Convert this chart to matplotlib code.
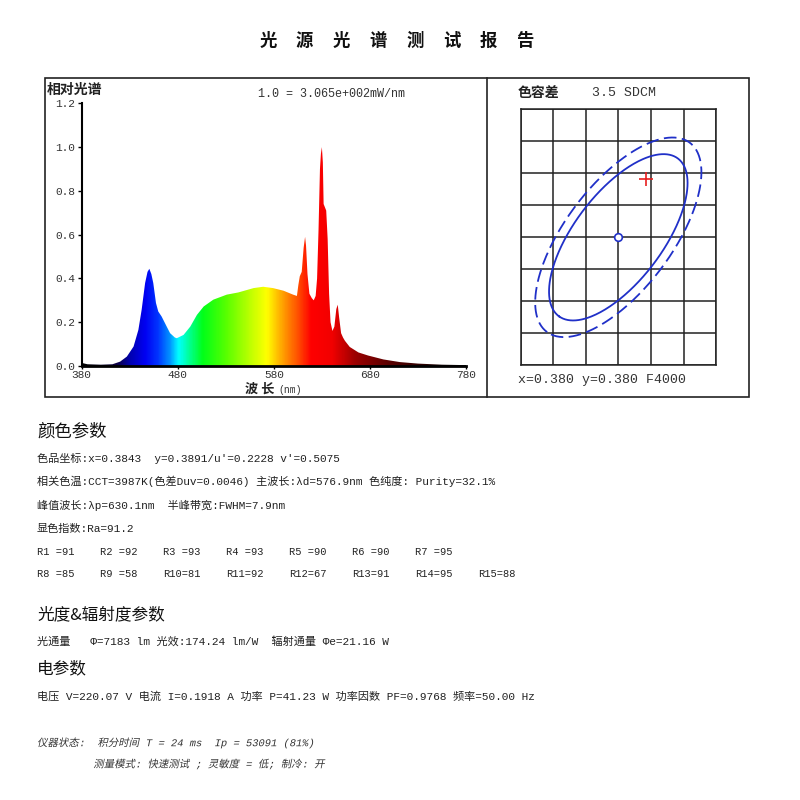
import numpy as np
import matplotlib
matplotlib.use('Agg')
from matplotlib import pyplot as plt
from matplotlib.colors import LinearSegmentedColormap
from matplotlib.lines import Line2D
from matplotlib.patches import Rectangle
from matplotlib.patheffects import AbstractPathEffect
from matplotlib.transforms import Affine2D

CJK = ['Noto Sans CJK SC', 'DejaVu Sans']
MONO = ['Liberation Mono', 'Noto Sans CJK SC', 'DejaVu Sans']
plt.rcParams['font.family'] = MONO

title = '光源光谱测试报告'

# relative spectrum
wavelength = [380, 382, 386, 400, 412, 420, 427, 434, 439, 442.4, 446, 448.5, 450.4,
              452.5, 454.5, 457.3, 459.7, 463.2, 468.5, 472, 477, 479, 486, 493, 500,
              507, 517, 531, 543, 559, 569, 579, 590, 600, 604, 605.5, 607, 609, 611,
              612.5, 613.5, 615, 617, 619.5, 621.5, 623.5, 625, 626.5, 628, 629, 630,
              631, 631.8, 634.5, 636, 637.5, 639, 641, 643, 645, 646.5, 648, 650, 652,
              654, 659, 668, 678, 694, 711, 730, 755, 780]
rel_power = [0.015, 0.012, 0.008, 0.006, 0.008, 0.02, 0.043, 0.089, 0.165, 0.257, 0.379,
             0.43, 0.444, 0.42, 0.379, 0.288, 0.249, 0.226, 0.18, 0.15, 0.13, 0.127,
             0.142, 0.18, 0.234, 0.272, 0.303, 0.326, 0.336, 0.356, 0.362, 0.356, 0.344,
             0.326, 0.32, 0.37, 0.41, 0.43, 0.54, 0.59, 0.55, 0.42, 0.33, 0.31, 0.30,
             0.32, 0.40, 0.62, 0.90, 0.97, 1.0, 0.93, 0.74, 0.71, 0.58, 0.33, 0.20,
             0.16, 0.18, 0.26, 0.28, 0.22, 0.15, 0.13, 0.115, 0.087, 0.062, 0.048,
             0.03, 0.018, 0.011, 0.006, 0.004]
spec_xticks = [380, 480, 580, 680, 780]
spec_yticks = [0.0, 0.2, 0.4, 0.6, 0.8, 1.0, 1.2]
scale_note = '1.0 = 3.065e+002mW/nm'

# colour tolerance
ref_x, ref_y, ref_name = 0.380, 0.380, 'F4000'
meas_x, meas_y = 0.3843, 0.3891
sdcm = 3.5
g11, g12, g22 = 38.6e4, -20.6e4, 25.8e4
ellipse_steps = [5, 6]
grid_step = 0.005

color_lines = [
    "色品坐标:x=0.3843  y=0.3891/u'=0.2228 v'=0.5075",
    '相关色温:CCT=3987K(色差Duv=0.0046) 主波长:λd=576.9nm 色纯度: Purity=32.1%',
    '峰值波长:λp=630.1nm  半峰带宽:FWHM=7.9nm',
    '显色指数:Ra=91.2',
]
r_values = [91, 92, 93, 93, 90, 90, 95, 85, 58, 81, 92, 67, 91, 95, 88]
photo_line = '光通量   Φ=7183 lm 光效:174.24 lm/W  辐射通量 Φe=21.16 W'
elec_line = '电压 V=220.07 V 电流 I=0.1918 A 功率 P=41.23 W 功率因数 PF=0.9768 频率=50.00 Hz'
status_lines = ['仪器状态:  积分时间 T = 24 ms  Ip = 53091 (81%)',
                '测量模式: 快速测试 ; 灵敏度 = 低; 制冷: 开']

W, H = 800, 800


def fx(x):
    return x / W


def fy(y):
    return 1 - y / H


class Oblique(AbstractPathEffect):
    # fake italic: CJK fonts have no italic face
    def draw_path(self, renderer, gc, tpath, affine, rgbFace=None):
        renderer.draw_path(gc, tpath, Affine2D().skew_deg(12, 0) + affine, rgbFace)


fig = plt.figure(figsize=(8, 8), dpi=100)

# title, one character at a time (wide spacing)
for i, ch in enumerate(title):
    fig.text(fx(268 + 36.7 * i), fy(41), ch, ha='center', va='center',
             fontsize=12.5, weight='bold', family=CJK, color='#111')

# panel frame
fig.add_artist(Rectangle((fx(45), fy(397)), fx(749) - fx(45), fy(77.5) - fy(397),
                         fill=False, lw=1.2, ec='#222', transform=fig.transFigure))
fig.add_artist(Line2D([fx(487), fx(487)], [fy(77.5), fy(397)], lw=1.2, color='#222',
                      transform=fig.transFigure))

# spectrum
spec_colors = [(380, (0, 0, 0)), (415, (0.05, 0, 0.25)), (430, (0, 0, 0.7)),
               (445, (0, 0, 0.95)), (458, (0, 0.2, 1)), (470, (0, 0.55, 1)),
               (480, (0, 1, 1)), (492, (0, 1, 0.55)), (505, (0, 1, 0.1)),
               (530, (0.35, 1, 0)), (555, (0.75, 1, 0)), (572, (1, 1, 0)),
               (590, (1, 0.6, 0)), (605, (1, 0.3, 0)), (618, (1, 0, 0)),
               (640, (0.95, 0, 0)), (665, (0.6, 0, 0)), (700, (0.35, 0, 0)),
               (740, (0.15, 0, 0)), (780, (0, 0, 0))]
cmap = LinearSegmentedColormap.from_list(
    'spec', [((w - 380) / 400, c) for w, c in spec_colors])

ax = fig.add_axes([fx(81.7), fy(366), fx(466) - fx(81.7), fy(103.3) - fy(366)])
ax.set_xlim(380, 780)
ax.set_ylim(0, 1.2)
poly = ax.fill_between(wavelength, 0, rel_power, facecolor='none', lw=0)
im = ax.imshow(np.linspace(380, 780, 800)[None, :], extent=(380, 780, 0, 1.2),
               aspect='auto', cmap=cmap, vmin=380, vmax=780, origin='lower')
im.set_clip_path(poly.get_paths()[0], transform=ax.transData)
for s in ('top', 'right'):
    ax.spines[s].set_visible(False)
ax.spines['left'].set_linewidth(1.5)
ax.spines['bottom'].set_linewidth(2)
ax.set_xticks(spec_xticks)
ax.set_xticklabels([str(v) for v in spec_xticks])
ax.set_yticks(spec_yticks)
ax.set_yticklabels([f'{v:.1f}' for v in spec_yticks])
ax.tick_params(direction='out', length=3, width=1, pad=2, labelsize=8, labelcolor='#333')
ax.tick_params(axis='x', length=2, pad=1)

fig.text(fx(47), fy(90), '相对光谱', ha='left', va='center', fontsize=10,
         weight='bold', family=CJK, color='#222')
fig.text(fx(258), fy(94), scale_note, ha='left', va='center', fontsize=8.5, color='#333')
fig.text(fx(260), fy(389), '波 长', ha='center', va='center', fontsize=9.5,
         weight='bold', family=CJK, color='#222')
fig.text(fx(278), fy(390), '(nm)', ha='left', va='center', fontsize=7, color='#333')

# tolerance grid with MacAdam ellipses
ax2 = fig.add_axes([fx(520.5), fy(365.3), fx(716.1) - fx(520.5), fy(109.3) - fy(365.3)])
ax2.set_xlim(ref_x - 3 * grid_step, ref_x + 3 * grid_step)
ax2.set_ylim(ref_y - 4 * grid_step, ref_y + 4 * grid_step)
ax2.set_xticks(ref_x + grid_step * np.arange(-3, 4))
ax2.set_yticks(ref_y + grid_step * np.arange(-4, 5))
ax2.grid(True, color='#222', lw=1.1)
ax2.set_axisbelow(True)
ax2.tick_params(length=0, labelbottom=False, labelleft=False)
for s in ax2.spines.values():
    s.set_linewidth(1.1)
    s.set_color('#222')

G = np.array([[g11, g12], [g12, g22]])
lam, vec = np.linalg.eigh(G)
t = np.linspace(0, 2 * np.pi, 361)
circle = np.vstack([np.cos(t), np.sin(t)])
for n, ls in zip(ellipse_steps, ['-', (0, (7, 3))]):
    pts = vec @ (circle * (n / np.sqrt(lam))[:, None])
    ax2.plot(ref_x + pts[0], ref_y + pts[1], color='#2030c8', lw=1.3, ls=ls)
ax2.plot(ref_x, ref_y, 'o', ms=5.5, mfc='white', mec='#2030c8', mew=1.2)
ax2.plot(meas_x, meas_y, '+', ms=10, mew=1.2, color='#e82020')

fig.text(fx(518), fy(93), '色容差', ha='left', va='center', fontsize=10,
         weight='bold', family=CJK, color='#222')
fig.text(fx(592), fy(93), f'{sdcm} SDCM', ha='left', va='center', fontsize=9.5, color='#333')
fig.text(fx(518), fy(380), f'x={ref_x:.3f} y={ref_y:.3f} {ref_name}', ha='left',
         va='center', fontsize=9.5, color='#333')

# parameter text
fig.text(fx(37), fy(431.7), '颜色参数', ha='left', va='center', fontsize=12.5,
         family=CJK, color='#111')
for i, line in enumerate(color_lines):
    fig.text(fx(37), fy(458.3 + 23.4 * i), line, ha='left', va='center',
             fontsize=8, color='#222')
for i, v in enumerate(r_values):
    row, col = divmod(i, 7) if i < 14 else (1, 7)
    name = f'R{i + 1}'
    fig.text(fx(36.7 + 63.1 * col), fy(551.7 + 22.6 * row), f'{name:<3}={v}',
             ha='left', va='center', fontsize=7.5, color='#222')

fig.text(fx(37), fy(615), '光度&辐射度参数', ha='left', va='center', fontsize=12,
         family=CJK, color='#111')
fig.text(fx(37), fy(641.7), photo_line, ha='left', va='center', fontsize=8, color='#222')
fig.text(fx(37), fy(668.3), '电参数', ha='left', va='center', fontsize=12,
         family=CJK, color='#111')
fig.text(fx(37), fy(696), elec_line, ha='left', va='center', fontsize=8, color='#222')

for (x0, y0), line in zip([(37, 742.7), (93.3, 764)], status_lines):
    fig.text(fx(x0), fy(y0), line, ha='left', va='center', fontsize=7.5,
             color='#333', path_effects=[Oblique()])

fig.savefig('out.png', dpi=100, facecolor='white')
